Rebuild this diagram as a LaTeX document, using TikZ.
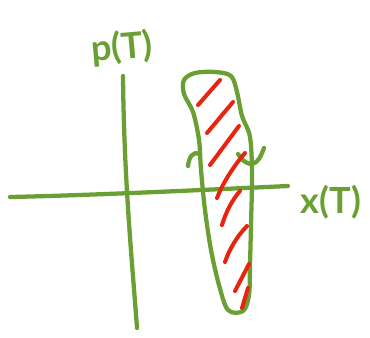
\documentclass[tikz,border=0pt]{standalone}
\usepackage{fontspec}
\setmainfont{Lato}
\definecolor{pen}{HTML}{6A9F33}
\definecolor{redpen}{HTML}{E8230F}
\begin{document}
\begin{tikzpicture}[x=0.75pt,y=-0.75pt,
  gline/.style={draw=pen,line width=3.2pt,line cap=round,line join=round},
  rline/.style={draw=redpen,line width=3pt,line cap=round},
  lab/.style={text=pen,font=\fontsize{27}{27}\selectfont\bfseries,inner sep=0pt}]
\useasboundingbox (0,0) rectangle (370,337);
% axes
\coordinate (xl) at (10,197);
\coordinate (xr) at (288,186);
\coordinate (pt) at (123,76);
\coordinate (pb) at (137,328);
\draw[gline] (xl) .. controls (100,195) and (200,190) .. (xr);
\draw[gline] (pt) .. controls (124,180) and (132,260) .. (pb);
% labels
\node[lab,rotate=5] (plab) at (122,48) {p(T)};
\node[lab] (xlab) at (331,202) {x(T)};
% blob
\draw[gline] plot[smooth cycle,tension=0.55] coordinates {
 (184,80) (195,73) (215,72) (231,76) (237,92) (242,116) (250,137)
 (252,175) (251,225) (250,265) (249,295) (243,311) (228,310)
 (219,285) (211,250) (205,210) (201,170) (199,140) (193,112) (184,94)};
% small marks
\draw[gline] (188,166) .. controls (189,157) and (193,151) .. (199,154);
\draw[gline] (238,154) .. controls (242,160) and (246,164) .. (252,164) .. controls (258,163) and (261,156) .. (264,148);
% hatching
\draw[rline] (220,80) -- (198,105);
\draw[rline] (233,102) -- (207,133);
\draw[rline] (239,126) -- (210,165);
\draw[rline] (245,153) .. controls (232,168) and (222,185) .. (217,198);
\draw[rline] (240,191) .. controls (232,200) and (226,212) .. (222,225);
\draw[rline] (247,226) .. controls (237,236) and (229,250) .. (225,262);
\draw[rline] (249,264) -- (235,291);
\draw[rline] (248,288) -- (242,308);
\end{tikzpicture}
\end{document}
